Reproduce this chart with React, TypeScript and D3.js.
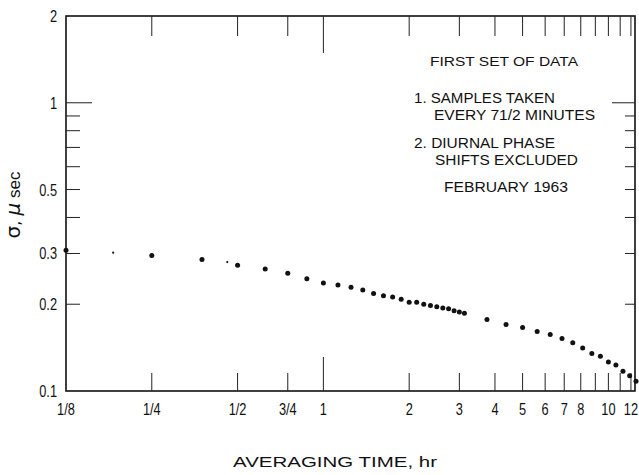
import React from "react";
import * as d3 from "d3";

// averaging time in hours (multiples of the 7 1/2 minute sample spacing)
const hours = [
  0.125, 0.25, 0.375, 0.5, 0.625, 0.75, 0.875, 1, 1.125, 1.25, 1.375, 1.5, 1.625,
  1.75, 1.875, 2, 2.125, 2.25, 2.375, 2.5, 2.625, 2.75, 2.875, 3, 3.125, 3.75,
  4.375, 5, 5.625, 6.25, 6.875, 7.5, 8.125, 8.75, 9.375, 10, 10.625, 11.25,
  11.875, 12.5,
];
// sigma, microseconds
const sigma = [
  0.308, 0.295, 0.286, 0.273, 0.265, 0.256, 0.245, 0.237, 0.233, 0.229, 0.224,
  0.218, 0.214, 0.212, 0.208, 0.203, 0.203, 0.2, 0.198, 0.196, 0.194, 0.193,
  0.19, 0.188, 0.186, 0.177, 0.17, 0.166, 0.161, 0.157, 0.152, 0.147, 0.141,
  0.135, 0.132, 0.126, 0.123, 0.117, 0.113, 0.108,
];
// small stray points in the original
const speckHours = [0.183, 0.46];
const speckSigma = [0.302, 0.28];

const xTickValues = [0.25, 0.5, 0.75, 1, 2, 3, 4, 5, 6, 7, 8, 9, 10, 11, 12];
const xLabelValues = [0.125, 0.25, 0.5, 0.75, 1, 2, 3, 4, 5, 6, 7, 8, 10, 12];
const xLabels = ["1/8", "1/4", "1/2", "3/4", "1", "2", "3", "4", "5", "6", "7", "8", "10", "12"];
const yTickValues = [0.2, 0.3, 0.4, 0.5, 0.6, 0.7, 0.8, 0.9, 1];
const yLabelValues = [0.1, 0.2, 0.3, 0.5, 1, 2];
const yLabels = ["0.1", "0.2", "0.3", "0.5", "1", "2"];

const notes = [
  "FIRST SET OF DATA",
  "1. SAMPLES TAKEN",
  "EVERY 71/2 MINUTES",
  "2. DIURNAL PHASE",
  "SHIFTS EXCLUDED",
  "FEBRUARY 1963",
];

const W = 639;
const H = 475;
const left = 66;
const right = 636;
const top = 16;
const bottom = 391;

const font = "'Liberation Sans', Arial, sans-serif";

export default function App() {
  const x = d3.scaleLog().domain([0.125, 12.5]).range([left, right]);
  const y = d3.scaleLog().domain([0.1, 2]).range([bottom, top]);

  // note layout: [x, baseline, length, size]
  const noteBox = [
    [430, 66, 148, 12],
    [414, 103, 141, 14],
    [434, 120, 161, 14],
    [414, 148, 141, 14],
    [435, 165, 143, 14],
    [444, 192, 124, 14],
  ];

  return (
    <svg
      width={W}
      height={H}
      style={{ position: "absolute", left: 0, top: 0, background: "#fff" }}
    >
      {/* frame */}
      <rect
        x={left}
        y={top}
        width={right - left - 1}
        height={bottom - top}
        fill="none"
        stroke="#111"
        strokeWidth={1.6}
      />

      {/* top and bottom ticks */}
      {xTickValues.map((v) => (
        <g key={"xt" + v} stroke="#222" strokeWidth={1}>
          <line x1={x(v)} x2={x(v)} y1={top} y2={top + (v === 1 ? 37 : 20)} />
          <line x1={x(v)} x2={x(v)} y1={bottom} y2={bottom - (v === 1 ? 34 : 18)} />
        </g>
      ))}

      {/* left and right ticks */}
      {yTickValues.map((v) => (
        <g key={"yt" + v} stroke="#222" strokeWidth={1}>
          <line x1={left} x2={left + (v === 1 ? 26 : 14)} y1={y(v)} y2={y(v)} />
          <line x1={right - 1} x2={right - 1 - (v === 1 ? 23 : 10)} y1={y(v)} y2={y(v)} />
        </g>
      ))}

      {/* x tick labels */}
      {xLabelValues.map((v, i) => (
        <text
          key={"xl" + v}
          transform={`translate(${x(v)},415) scale(0.8,1)`}
          textAnchor="middle"
          fontFamily={font}
          fontSize={16}
          fill="#111"
        >
          {xLabels[i]}
        </text>
      ))}

      {/* y tick labels */}
      {yLabelValues.map((v, i) => (
        <text
          key={"yl" + v}
          transform={`translate(57,${y(v) + 6}) scale(0.8,1)`}
          textAnchor="end"
          fontFamily={font}
          fontSize={16}
          fill="#111"
        >
          {yLabels[i]}
        </text>
      ))}

      {/* data */}
      {hours.map((h, i) => (
        <circle key={"p" + i} cx={x(h)} cy={y(sigma[i])} r={2.5} fill="#111" />
      ))}
      {speckHours.map((h, i) => (
        <circle key={"s" + i} cx={x(h)} cy={y(speckSigma[i])} r={1.1} fill="#111" />
      ))}

      {/* notes */}
      {notes.map((t, i) => (
        <text
          key={"n" + i}
          x={noteBox[i][0]}
          y={noteBox[i][1]}
          textLength={noteBox[i][2]}
          lengthAdjust="spacingAndGlyphs"
          fontFamily={font}
          fontSize={noteBox[i][3]}
          fill="#111"
        >
          {t}
        </text>
      ))}

      {/* axis titles */}
      <text
        x={233}
        y={467}
        textLength={204}
        lengthAdjust="spacingAndGlyphs"
        fontFamily={font}
        fontSize={14}
        fill="#111"
      >
        AVERAGING TIME, hr
      </text>
      <text
        transform="translate(20,205) rotate(-90)"
        textAnchor="middle"
        fontFamily="'DejaVu Sans', sans-serif"
        fill="#111"
      >
        <tspan fontSize={20}>σ</tspan>
        <tspan fontSize={16}>, </tspan>
        <tspan fontSize={20} fontStyle="italic">μ</tspan>
        <tspan fontSize={17} fontFamily={font}> sec</tspan>
      </text>
    </svg>
  );
}
